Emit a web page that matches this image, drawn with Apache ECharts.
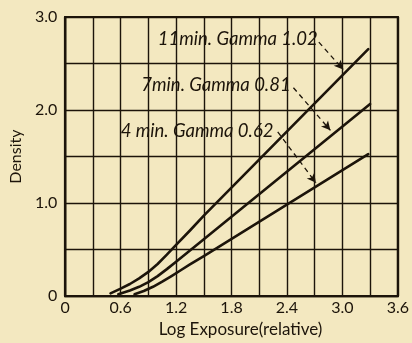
<!DOCTYPE html>
<html><head><meta charset="utf-8">
<script src="https://cdn.jsdelivr.net/npm/echarts@6/dist/echarts.min.js"></script>
<style>html,body{margin:0;padding:0;background:#f3e8c0;}#c{width:412px;height:343px;}</style>
</head><body><div id="c"></div>
<script>
// Data (log exposure, density)
const curve11 = [[0.49,0.03],[0.6,0.08],[0.7,0.13],[0.8,0.19],[0.9,0.26],[1.0,0.345],[1.1,0.445],[1.2,0.55],[1.35,0.705],[1.5,0.865],[3.28,2.655]];
const curve7  = [[0.575,0.02],[0.7,0.06],[0.8,0.10],[0.9,0.15],[1.0,0.215],[1.1,0.29],[1.2,0.37],[1.35,0.49],[1.5,0.61],[3.30,2.065]];
const curve4  = [[0.75,0.02],[0.85,0.055],[0.95,0.10],[1.05,0.155],[1.15,0.215],[1.25,0.278],[1.35,0.34],[1.5,0.43],[3.28,1.525]];
const xTicks = [0,0.6,1.2,1.8,2.4,3.0,3.6];
const yTicks = [0,1.0,2.0,3.0];
const annTexts = ['11min. Gamma 1.02','7min. Gamma 0.81','4 min. Gamma 0.62'];
const annTextAt = [[2.734,2.76],[2.44,2.266],[2.254,1.779]];
const arrowFrom = [[2.745,2.73],[2.47,2.24],[2.30,1.765]];
const arrowTo = [[3.008,2.436],[2.87,1.782],[2.713,1.218]];

const ink = '#1c140a';
const font = 'Lato';
const chart = echarts.init(document.getElementById('c'), null, {renderer:'canvas'});
function mk(data, idx){
  return {
    type:'line', data:data, showSymbol:false, smooth:false,
    lineStyle:{color:ink,width:2.6,join:'round',cap:'round'}, silent:true, z:5,
    markPoint:{silent:true, symbol:'circle', symbolSize:0,
      data:[{coord:annTextAt[idx], label:{show:true, position:'left', distance:0,
        formatter:annTexts[idx], fontStyle:'italic', fontFamily:font, fontSize:18.5, color:ink}}]},
    markLine:{silent:true, symbol:['none','arrow'], symbolSize:[7,9],
      lineStyle:{color:ink,type:[5,4],width:1.3}, label:{show:false},
      data:[[{coord:arrowFrom[idx]},{coord:arrowTo[idx]}]]}
  };
}
chart.setOption({
  backgroundColor:'#f3e8c0',
  animation:false,
  grid:{left:60,right:7,top:17,bottom:43,show:true,borderColor:ink,borderWidth:2.2,backgroundColor:'transparent'},
  xAxis:{type:'value',min:0,max:3.6,interval:0.3,
    name:'Log Exposure(relative)',nameLocation:'middle',nameGap:24,
    nameTextStyle:{fontFamily:font,fontSize:17,color:ink,padding:[0,0,0,18]},
    axisLine:{show:true,onZero:false,lineStyle:{color:ink,width:2.2}},
    axisTick:{show:false},
    axisLabel:{fontFamily:font,fontSize:16,color:ink,margin:4,
      formatter:v=>{const m=xTicks.find(t=>Math.abs(t-v)<1e-6);return m===undefined?'':(m===0?'0':m.toFixed(1));}},
    splitLine:{show:true,lineStyle:{color:ink,width:1.4}}},
  yAxis:{type:'value',min:0,max:3.0,interval:0.5,
    name:'Density',nameLocation:'middle',nameGap:37,
    nameTextStyle:{fontFamily:font,fontSize:16,color:ink},
    axisLine:{show:true,onZero:false,lineStyle:{color:ink,width:2.2}},
    axisTick:{show:false},
    axisLabel:{fontFamily:font,fontSize:16,color:ink,margin:8,
      formatter:v=>{const m=yTicks.find(t=>Math.abs(t-v)<1e-6);return m===undefined?'':(m===0?'0':m.toFixed(1));}},
    splitLine:{show:true,lineStyle:{color:ink,width:1.4}}},
  series:[mk(curve11,0),mk(curve7,1),mk(curve4,2)]
});
</script></body></html>
